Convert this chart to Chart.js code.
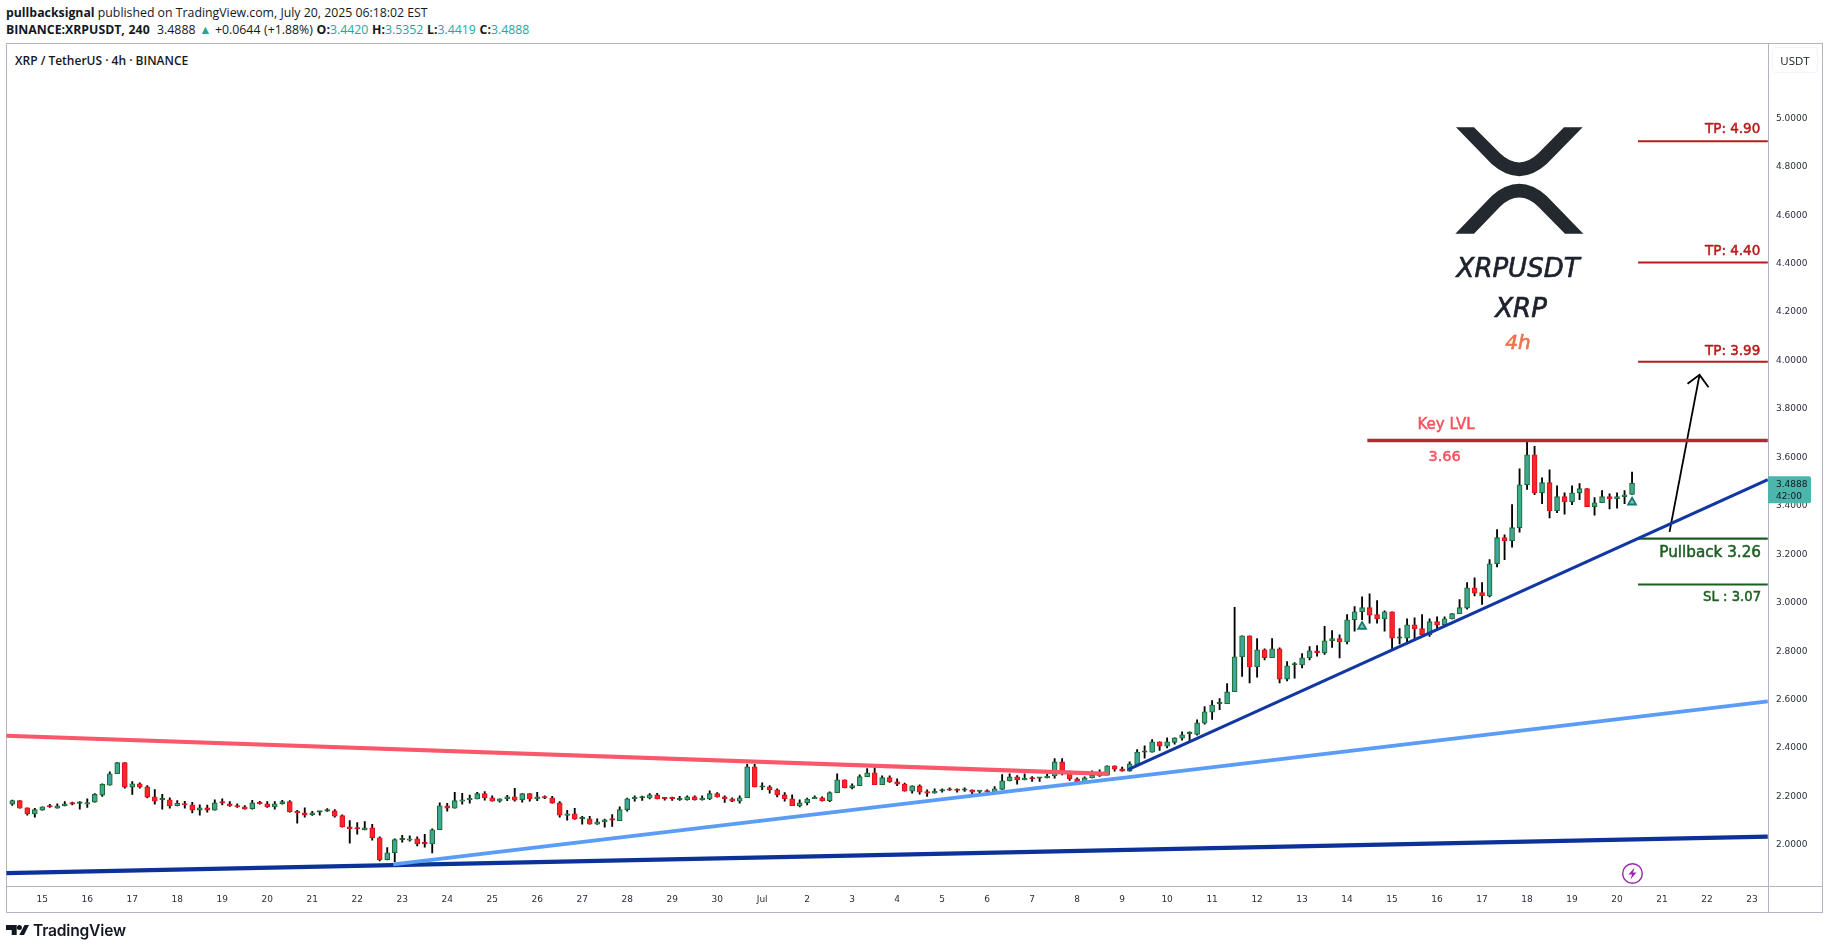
<!DOCTYPE html>
<html>
<head>
<meta charset="utf-8">
<title>XRPUSDT 4h</title>
<script src="https://cdn.jsdelivr.net/npm/chart.js@4/dist/chart.umd.min.js"></script>
<style>
html,body{margin:0;padding:0;background:#fff;width:1829px;height:949px;overflow:hidden;}
#c{position:absolute;left:0;top:0;}
.t{position:absolute;white-space:nowrap;font-family:"Open Sans",sans-serif;color:#131722;}
.teal{color:#26a69a;}
.ln{position:absolute;background:#b2b5be;}
svg{position:absolute;}
</style>
</head>
<body>
<div class="t" style="left:6px;top:4px;font-size:12.3px;"><b>pullbacksignal</b> published on TradingView.com, July 20, 2025 06:18:02 EST</div>
<div class="t" style="left:6px;top:21px;font-size:12.3px;word-spacing:.5px;"><b>BINANCE:XRPUSDT, 240</b>&nbsp; 3.4888 <span class="teal">▲</span> +0.0644 (+1.88%) <b>O:</b><span class="teal">3.4420</span> <b>H:</b><span class="teal">3.5352</span> <b>L:</b><span class="teal">3.4419</span> <b>C:</b><span class="teal">3.4888</span></div>
<div class="t" style="left:15px;top:52px;font-size:12px;font-weight:600;">XRP / TetherUS · 4h · BINANCE</div>
<div class="ln" style="left:6px;top:43px;width:1817px;height:1px;"></div>
<div class="ln" style="left:6px;top:912px;width:1817px;height:1px;"></div>
<div class="ln" style="left:6px;top:43px;width:1px;height:870px;"></div>
<div class="ln" style="left:1822px;top:43px;width:1px;height:870px;"></div>
<div class="ln" style="left:1768px;top:43px;width:1px;height:870px;"></div>
<div class="ln" style="left:6px;top:886px;width:1817px;height:1px;"></div>
<canvas id="c" width="1829" height="949" style="width:1829px;height:949px;"></canvas>
<svg style="left:1400px;top:90px;" width="214" height="170" viewBox="0 0 642 510">
<path fill="#23292f" d="M168 112H222L300 190Q358 245 415 190L492 112H548L440 222Q358 295 275 222Z"/>
<path fill="#23292f" d="M166 431H222L300 350Q358 295 415 350L495 431H550L440 318Q358 245 275 318Z"/>
</svg>
<svg style="left:1621px;top:862px;" width="23" height="23" viewBox="0 0 23 23">
<circle cx="11.5" cy="11.5" r="9.8" fill="#fff" stroke="#9c27b0" stroke-width="1.4"/>
<path fill="#9c27b0" d="M13.5 5.5L7.5 12.5H11L9.5 17.5L15.5 10.5H12Z"/>
</svg>
<svg style="left:0;top:920px;" width="32" height="20" viewBox="0 0 32 20">
<path fill="#131722" d="M6 5H16.7V15H11.7V10H6Z"/>
<circle cx="19.4" cy="7.5" r="2.5" fill="#131722"/>
<path fill="#131722" d="M24.5 5H29L24 15H19.3Z"/>
</svg>
<div class="t" style="left:33px;top:921px;font-family:Inter,sans-serif;font-size:15.6px;font-weight:600;letter-spacing:-.2px;">TradingView</div>
<script>
// candles, 4h
var opens = [2.164,2.178,2.149,2.123,2.139,2.154,2.147,2.156,2.167,2.167,
2.164,2.172,2.201,2.242,2.289,2.335,2.234,2.248,2.235,2.194,
2.182,2.182,2.156,2.165,2.161,2.139,2.149,2.139,2.171,2.165,
2.158,2.153,2.145,2.171,2.165,2.152,2.165,2.174,2.134,2.128,
2.120,2.131,2.135,2.136,2.116,2.070,2.062,2.057,2.066,2.025,
1.934,1.963,2.017,2.015,2.021,2.002,1.999,2.058,2.157,2.147,
2.176,2.182,2.185,2.207,2.190,2.176,2.185,2.194,2.182,2.207,
2.185,2.194,2.190,2.169,2.117,2.124,2.103,2.103,2.081,2.090,
2.099,2.095,2.141,2.186,2.189,2.189,2.202,2.187,2.187,2.182,
2.182,2.194,2.182,2.185,2.207,2.194,2.186,2.176,2.190,2.318,
2.234,2.235,2.223,2.202,2.186,2.157,2.169,2.186,2.190,2.178,
2.211,2.264,2.231,2.240,2.277,2.293,2.244,2.273,2.256,2.247,
2.217,2.239,2.216,2.209,2.218,2.223,2.223,2.221,2.223,2.216,
2.218,2.213,2.225,2.260,2.276,2.264,2.269,2.271,2.272,2.280,
2.338,2.300,2.268,2.254,2.272,2.280,2.283,2.322,2.309,2.300,
2.327,2.378,2.378,2.421,2.403,2.419,2.436,2.455,2.452,2.498,
2.543,2.578,2.578,2.628,2.771,2.859,2.730,2.801,2.768,2.805,
2.680,2.738,2.738,2.768,2.797,2.789,2.838,2.847,2.833,2.925,
2.958,2.975,2.946,2.928,2.958,2.849,2.849,2.904,2.888,2.862,
2.917,2.904,2.928,2.950,2.973,3.057,3.037,3.023,3.156,3.264,
3.251,3.305,3.482,3.606,3.449,3.491,3.375,3.433,3.412,3.449,
3.466,3.392,3.408,3.433,3.425,3.433,3.442];
var highs = [2.180,2.178,2.149,2.146,2.153,2.163,2.165,2.174,2.172,2.174,
2.186,2.207,2.248,2.297,2.335,2.335,2.257,2.252,2.240,2.224,
2.204,2.190,2.178,2.175,2.171,2.161,2.160,2.182,2.186,2.174,
2.165,2.158,2.179,2.175,2.174,2.174,2.179,2.178,2.138,2.149,
2.134,2.134,2.145,2.141,2.120,2.096,2.088,2.092,2.080,2.029,
1.984,2.021,2.035,2.033,2.029,2.039,2.062,2.169,2.167,2.212,
2.208,2.201,2.212,2.216,2.198,2.186,2.200,2.229,2.207,2.207,
2.212,2.198,2.196,2.174,2.138,2.146,2.113,2.113,2.103,2.102,
2.121,2.153,2.189,2.198,2.197,2.207,2.208,2.191,2.193,2.196,
2.198,2.198,2.198,2.219,2.211,2.198,2.190,2.198,2.328,2.328,
2.252,2.240,2.227,2.211,2.202,2.182,2.189,2.198,2.194,2.215,
2.289,2.264,2.248,2.285,2.311,2.315,2.281,2.281,2.268,2.251,
2.239,2.243,2.223,2.227,2.227,2.231,2.227,2.231,2.223,2.218,
2.223,2.236,2.286,2.289,2.282,2.289,2.278,2.272,2.289,2.352,
2.352,2.300,2.272,2.276,2.301,2.305,2.322,2.322,2.317,2.338,
2.389,2.404,2.430,2.421,2.437,2.437,2.462,2.462,2.512,2.567,
2.591,2.600,2.661,2.976,2.859,2.859,2.847,2.805,2.847,2.809,
2.752,2.748,2.785,2.814,2.818,2.898,2.880,2.863,2.946,2.979,
3.020,3.032,3.004,2.962,2.958,2.888,2.929,2.933,2.946,2.929,
2.937,2.937,2.950,3.008,3.078,3.098,3.078,3.173,3.297,3.276,
3.400,3.548,3.659,3.641,3.511,3.544,3.478,3.449,3.478,3.487,
3.466,3.429,3.458,3.445,3.449,3.458,3.535];
var lows = [2.158,2.147,2.118,2.110,2.139,2.150,2.147,2.156,2.160,2.143,
2.150,2.172,2.196,2.242,2.289,2.230,2.204,2.230,2.189,2.164,
2.143,2.147,2.156,2.147,2.127,2.118,2.131,2.139,2.160,2.154,
2.150,2.143,2.143,2.164,2.150,2.143,2.164,2.131,2.085,2.110,
2.117,2.118,2.134,2.110,2.069,2.003,2.040,2.057,2.015,1.929,
1.933,1.926,2.007,2.011,1.991,1.986,1.962,2.058,2.135,2.147,
2.164,2.168,2.185,2.180,2.176,2.172,2.178,2.176,2.172,2.176,
2.178,2.186,2.168,2.110,2.098,2.101,2.081,2.081,2.080,2.069,
2.072,2.095,2.135,2.176,2.179,2.185,2.185,2.180,2.179,2.179,
2.180,2.180,2.180,2.182,2.193,2.171,2.174,2.168,2.190,2.235,
2.223,2.209,2.194,2.176,2.157,2.152,2.161,2.186,2.176,2.174,
2.211,2.231,2.227,2.240,2.277,2.244,2.244,2.253,2.240,2.217,
2.209,2.205,2.196,2.209,2.213,2.220,2.213,2.216,2.206,2.206,
2.213,2.213,2.225,2.260,2.246,2.264,2.258,2.258,2.272,2.271,
2.284,2.262,2.254,2.254,2.272,2.278,2.283,2.300,2.300,2.300,
2.327,2.353,2.378,2.385,2.396,2.411,2.428,2.421,2.448,2.494,
2.514,2.554,2.578,2.628,2.691,2.664,2.688,2.759,2.768,2.664,
2.672,2.684,2.726,2.759,2.775,2.782,2.811,2.767,2.825,2.878,
2.925,2.911,2.911,2.878,2.804,2.825,2.830,2.847,2.859,2.856,
2.887,2.904,2.928,2.950,2.969,3.023,2.988,3.019,3.143,3.173,
3.225,3.287,3.463,3.441,3.404,3.345,3.367,3.361,3.400,3.421,
3.392,3.357,3.408,3.383,3.386,3.404,3.442];
var closes = [2.178,2.147,2.123,2.141,2.153,2.152,2.157,2.165,2.164,2.168,
2.169,2.204,2.245,2.289,2.335,2.234,2.248,2.234,2.193,2.176,
2.183,2.156,2.167,2.160,2.139,2.149,2.139,2.169,2.168,2.156,
2.152,2.143,2.169,2.165,2.152,2.165,2.174,2.132,2.127,2.118,
2.128,2.132,2.136,2.114,2.070,2.061,2.061,2.066,2.025,1.933,
1.963,2.017,2.018,2.021,1.999,2.000,2.058,2.157,2.147,2.178,
2.182,2.187,2.207,2.189,2.176,2.186,2.194,2.180,2.207,2.185,
2.194,2.189,2.168,2.118,2.124,2.103,2.105,2.081,2.091,2.099,
2.098,2.141,2.186,2.190,2.190,2.202,2.185,2.186,2.186,2.183,
2.194,2.182,2.186,2.207,2.194,2.186,2.176,2.190,2.318,2.235,
2.235,2.223,2.202,2.186,2.157,2.169,2.185,2.190,2.178,2.211,
2.264,2.231,2.240,2.277,2.293,2.244,2.273,2.256,2.246,2.217,
2.239,2.213,2.209,2.218,2.221,2.221,2.220,2.223,2.213,2.217,
2.214,2.227,2.260,2.276,2.264,2.268,2.268,2.272,2.280,2.338,
2.300,2.268,2.257,2.272,2.283,2.282,2.322,2.308,2.300,2.330,
2.379,2.379,2.421,2.403,2.421,2.437,2.450,2.456,2.499,2.545,
2.573,2.579,2.627,2.772,2.859,2.730,2.801,2.768,2.805,2.680,
2.735,2.739,2.768,2.797,2.789,2.838,2.847,2.833,2.925,2.958,
2.975,2.944,2.928,2.958,2.849,2.851,2.904,2.887,2.863,2.917,
2.903,2.929,2.950,2.975,3.057,3.035,3.024,3.156,3.264,3.251,
3.305,3.482,3.606,3.449,3.491,3.375,3.433,3.412,3.449,3.466,
3.392,3.408,3.433,3.425,3.433,3.441,3.489];

// x axis is candle number, first candle = 0, a day = 6 candles
var dayLabels = ["15","16","17","18","19","20","21","22","23","24","25","26","27","28","29","30","Jul",
"2","3","4","5","6","7","8","9","10","11","12","13","14","15","16","17","18","19","20","21","22","23"];
var dayTicks = dayLabels.map(function(d,i){ return 4 + i*6; });
var priceTicks = [2,2.2,2.4,2.6,2.8,3,3.2,3.4,3.6,3.8,4,4.2,4.4,4.6,4.8,5];

// drawings: [candle, price] pairs
var redLine = [[-0.8,2.446],[146.2,2.289]];
var lightBlueLine = [[50.8,1.915],[234.1,2.588]];
var baseLine = [[-0.8,1.879],[234.1,2.030]];
var riseLine = [[148.8,2.306],[234.1,3.503]];
var keyLevel = [[180.7,3.665],[234.1,3.665]];
var tp1 = [[216.8,3.99],[234.1,3.99]];
var tp2 = [[216.8,4.40],[234.1,4.40]];
var tp3 = [[216.8,4.90],[234.1,4.90]];
var pullback = [[216.8,3.26],[234.1,3.26]];
var stopLoss = [[216.8,3.07],[234.1,3.07]];
var arrowShaft = [[221,3.288],[225,3.936]];
var arrowHead = [[223.4,3.899],[225,3.936],[226.2,3.885]];
var signalMarks = [[180,2.897],[216,3.410]];

var lastPrice = 3.4888;

var UP_FILL = "#3fa796", UP_EDGE = "#1c6b2f", DOWN_FILL = "#f9262c", DOWN_EDGE = "#e0111a";

function pts(a){ return a.map(function(p){ return {x:p[0],y:p[1]}; }); }
function line(a,color,w,order){
    return {type:"line",data:pts(a),borderColor:color,borderWidth:w,pointRadius:0,tension:0,order:order||1,borderCapStyle:"butt"};
}

var bodyFill = [], bodyEdge = [];
for (var i = 0; i < opens.length; i++) {
    var up = closes[i] >= opens[i];
    var flat = Math.abs(closes[i]-opens[i]) < 0.004;
    bodyEdge.push(up ? UP_EDGE : DOWN_EDGE);
    bodyFill.push(flat ? (up ? UP_EDGE : DOWN_EDGE) : (up ? UP_FILL : DOWN_FILL));
}

var wicks = lows.map(function(l,i){ return {x:i,y:[l,highs[i]]}; });
var bodies = opens.map(function(o,i){ return {x:i,y:[o,closes[i]]}; });

var notes = [
    {t:"Key LVL",x:191.2,y:3.711,a:"center",f:"15px 'DejaVu Sans'",c:"#f7525f",s:.5},
    {t:"3.66",x:191,y:3.579,a:"center",f:"14.5px 'DejaVu Sans'",c:"#f7525f",s:.5},
    {t:"TP: 4.90",x:233.1,y:4.933,a:"right",f:"13.5px 'DejaVu Sans'",c:"#b71c1c",s:.5},
    {t:"TP: 4.40",x:233.1,y:4.429,a:"right",f:"13.5px 'DejaVu Sans'",c:"#b71c1c",s:.5},
    {t:"TP: 3.99",x:233.1,y:4.020,a:"right",f:"13.5px 'DejaVu Sans'",c:"#b71c1c",s:.5},
    {t:"Pullback 3.26",x:233.2,y:3.182,a:"right",f:"15.2px 'DejaVu Sans'",c:"#1b5e20",s:.5},
    {t:"SL : 3.07",x:233.2,y:3.004,a:"right",f:"13.2px 'DejaVu Sans'",c:"#1b5e20",s:.5},
    {t:"XRPUSDT",x:200.8,y:4.339,a:"center",f:"oblique 26px 'DejaVu Sans'",c:"#1e222d",s:.7},
    {t:"XRP",x:201.2,y:4.174,a:"center",f:"oblique 26px 'DejaVu Sans'",c:"#1e222d",s:.7},
    {t:"4h",x:200.8,y:4.041,a:"center",f:"oblique 20px 'DejaVu Sans'",c:"#ef7350",s:.7}
];

var drawNotes = {
    id:"drawNotes",
    afterDraw:function(chart){
        var c = chart.ctx, xs = chart.scales.x, ys = chart.scales.y;
        c.save();
        notes.forEach(function(n){
            c.font = n.f; c.fillStyle = n.c; c.textAlign = n.a; c.textBaseline = "alphabetic";
            var px = xs.getPixelForValue(n.x), py = ys.getPixelForValue(n.y);
            c.fillText(n.t,px,py);
            if (n.s) { c.strokeStyle = n.c; c.lineWidth = n.s; c.strokeText(n.t,px,py); }
        });
        // last price tag
        var ty = ys.getPixelForValue(lastPrice), tx = chart.chartArea.right;
        c.fillStyle = "#4db6ac";
        c.beginPath(); c.roundRect(tx,ty-7,43,27,[0,2,2,0]); c.fill();
        c.fillStyle = "#131722"; c.font = "9px 'DejaVu Sans'"; c.textAlign = "left"; c.textBaseline = "middle";
        c.fillText(lastPrice.toFixed(4),tx+8,ty+1);
        c.fillText("42:00",tx+8,ty+13.5);
        c.restore();
    }
};

var chart = new Chart(document.getElementById("c"),{
    type:"bar",
    data:{datasets:[
        line(redLine,"#f9576a",4.2),
        line(lightBlueLine,"#5b9cf6",4,2),
        line(baseLine,"#0c3299",4.2,3),
        line(riseLine,"#1237a3",3,0),
        line(keyLevel,"#b22833",3.5),
        line(tp1,"#b71c1c",2),
        line(tp2,"#b71c1c",2),
        line(tp3,"#b71c1c",2),
        line(pullback,"#1b5e20",2.4),
        line(stopLoss,"#1b5e20",2),
        line(arrowShaft,"#000000",1.8),
        line(arrowHead,"#000000",1.8),
        {type:"scatter",data:pts(signalMarks),pointStyle:"triangle",pointRadius:4.5,pointBorderWidth:1.8,
         pointBorderColor:"#157a6e",pointBackgroundColor:"#7fc7bd",showLine:false,order:1},
        {type:"bar",data:bodies,barThickness:5,grouped:false,backgroundColor:bodyFill,borderColor:bodyEdge,
         borderWidth:1.1,borderSkipped:false,minBarLength:1.4,order:10},
        {type:"bar",data:wicks,barThickness:1.2,grouped:false,backgroundColor:"#000000",borderWidth:0,order:11}
    ]},
    options:{
        responsive:false,
        animation:false,
        devicePixelRatio:1,
        layout:{padding:{left:6,top:43.5,right:7,bottom:36.5}},
        plugins:{legend:{display:false},tooltip:{enabled:false},title:{display:false}},
        scales:{
            x:{
                type:"linear",offset:false,min:-0.8,max:234.13,
                grid:{display:false,drawTicks:false},border:{display:false},
                afterBuildTicks:function(a){ a.ticks = dayTicks.map(function(v){ return {value:v}; }); },
                afterFit:function(a){ a.height = 26; },
                ticks:{autoSkip:false,maxRotation:0,padding:7.5,color:"#2a2e39",font:{family:"'DejaVu Sans'",size:9},
                    callback:function(v){ return dayLabels[(v-4)/6]; }}
            },
            y:{
                position:"right",min:1.8237,max:5.304,
                grid:{display:false,drawTicks:false},border:{display:false},
                afterBuildTicks:function(a){ a.ticks = priceTicks.map(function(v){ return {value:v}; }); },
                afterFit:function(a){ a.width = 54; },
                ticks:{autoSkip:false,padding:8,labelOffset:1.2,color:"#2a2e39",font:{family:"'DejaVu Sans'",size:9},
                    callback:function(v){ return v.toFixed(4); }}
            }
        }
    },
    plugins:[drawNotes]
});
</script>
<div class="t" style="left:1772px;top:47px;width:46px;height:26px;line-height:26px;text-align:center;box-sizing:border-box;border:1px solid #f0f3fa;border-radius:4px;font-size:11.5px;">USDT</div>
</body>
</html>
